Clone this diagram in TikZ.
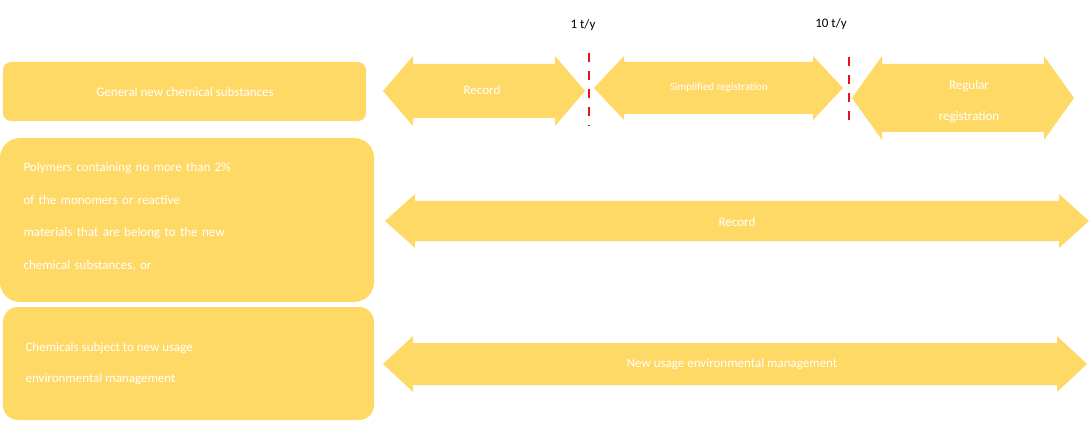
\documentclass[tikz,border=0pt]{standalone}
\usepackage{fontspec}
\setmainfont{Carlito}
\definecolor{gold}{HTML}{FFD966}
\definecolor{cutred}{HTML}{E8141C}
\tikzset{
  box/.style={fill=gold, draw=none},
  lbl/.style={text=white, font=\fontsize{13}{15}\selectfont},
  toplbl/.style={text=black, font=\fontsize{13}{15}\selectfont},
  cut/.style={draw=cutred, line width=2.5pt, dash pattern=on 9pt off 9pt}
}
% double arrow: x left, x right, y middle, half shaft, half head, head length
\newcommand{\dblarrow}[6]{%
  \fill[gold] (#1,#3) -- (#1+#6,#3-#5) -- (#1+#6,#3-#4) -- (#2-#6,#3-#4)
    -- (#2-#6,#3-#5) -- (#2,#3) -- (#2-#6,#3+#5) -- (#2-#6,#3+#4)
    -- (#1+#6,#3+#4) -- (#1+#6,#3+#5) -- cycle;}
\begin{document}
\begin{tikzpicture}[x=1pt, y=-1pt]
  \useasboundingbox (0,0) rectangle (1089,422);

  % category boxes
  \fill[box, rounded corners=8pt] (3,62) rectangle (366,121);
  \fill[box, rounded corners=20pt] (0,138) rectangle (374,302);
  \fill[box, rounded corners=15pt] (3,307) rectangle (374,420);
  \node[lbl] (general) at (185,92) {General new chemical substances};
  \node[lbl, anchor=west, align=left, text width=330pt,
        font=\fontsize{13}{32.5}\selectfont] (polymers) at (20,217)
    {Polymers containing no more than 2\%\\ of the monomers or reactive\\ materials that are belong to the new\\ chemical substances, or};
  \node[lbl, anchor=west, align=left, font=\fontsize{13}{31}\selectfont]
    (usage) at (22,364) {Chemicals subject to new usage\\ environmental management};

  % arrows
  \dblarrow{383}{585}{91}{27}{35}{30}
  \dblarrow{594}{843}{88}{26}{32}{30}
  \dblarrow{852}{1074}{98}{34}{42}{30}
  \dblarrow{385}{1089}{221}{20}{27}{30}
  \dblarrow{383}{1087}{364}{21}{28}{30}
  \node[lbl] (rec1) at (482,90) {Record};
  \node[lbl, font=\fontsize{11}{13}\selectfont] (simple) at (719,88) {Simplified registration};
  \node[lbl, align=center, font=\fontsize{13}{31}\selectfont] (regular) at (969,102) {Regular\\ registration};
  \node[lbl] (rec2) at (737,222) {Record};
  \node[lbl] (newuse) at (732,364) {New usage environmental management};

  % thresholds
  \coordinate (t1a) at (589,53);
  \coordinate (t1b) at (589,126);
  \coordinate (t2a) at (849,57);
  \coordinate (t2b) at (849,126);
  \draw[cut] (t1a) -- (t1b);
  \draw[cut] (t2a) -- (t2b);
  \node[toplbl] (one) at (583,25) {1 t/y};
  \node[toplbl] (ten) at (831,24) {10 t/y};
\end{tikzpicture}
\end{document}
